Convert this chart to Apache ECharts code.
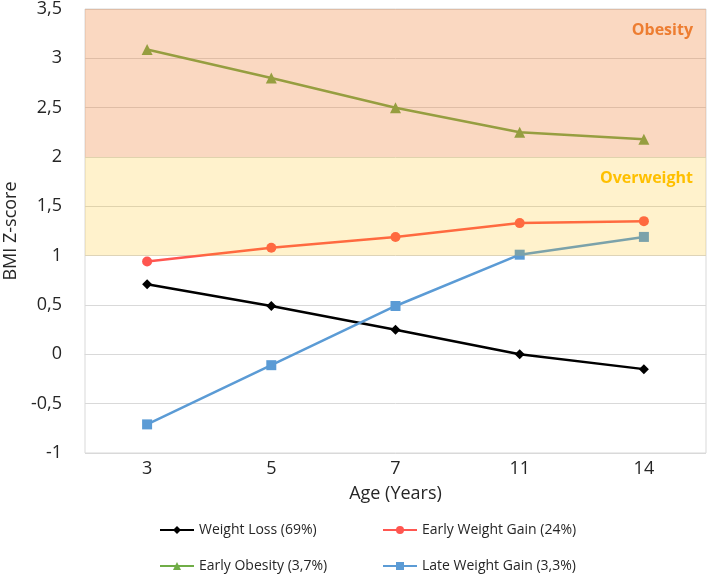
<!DOCTYPE html>
<html><head><meta charset="utf-8">
<script src="https://cdn.jsdelivr.net/npm/echarts@6/dist/echarts.min.js"></script>
<style>html,body{margin:0;padding:0;background:#fff}#c{width:708px;height:574px}</style>
</head><body><div id="c"></div>
<script>
const ages = ['3','5','7','11','14'];
const weightLoss = [0.71, 0.49, 0.25, 0.0, -0.15];
const earlyGain = [0.94, 1.08, 1.19, 1.33, 1.35];
const earlyObesity = [3.09, 2.8, 2.5, 2.25, 2.18];
const lateGain = [-0.71, -0.11, 0.49, 1.01, 1.19];
const names = ['Weight Loss (69%)', 'Early Weight Gain (24%)', 'Early Obesity (3,7%)', 'Late Weight Gain (3,3%)'];
const colors = ['#000000', '#FF5650', '#70AD47', '#5B9BD5'];
const symbols = ['diamond', 'circle', 'triangle', 'rect'];
const sizes = [10, 10, 11, 10];
const values = [weightLoss, earlyGain, earlyObesity, lateGain];

const chart = echarts.init(document.getElementById('c'));
const font = '"Open Sans", "Noto Sans", sans-serif';
const series = names.map((n, i) => ({
  name: n, type: 'line', data: values[i], symbol: symbols[i], symbolSize: sizes[i],
  itemStyle: {color: colors[i]}, lineStyle: {color: colors[i], width: 2.5}, z: 3
}));
series.push({
  name: 'bands', type: 'line', data: ages.map(() => null), z: 20, silent: true,
  showSymbol: false,
  markArea: {
    silent: true, z: 20,
    label: {show: true, position: 'insideTopRight', fontWeight: 'bold', fontSize: 16, fontFamily: font, distance: 13},
    data: [
      [{name: 'Obesity', yAxis: 2, itemStyle: {color: 'rgba(237,125,49,0.3)'},
        label: {color: '#ED7D31'}},
       {yAxis: 3.5}],
      [{name: 'Overweight', yAxis: 1, itemStyle: {color: 'rgba(255,192,0,0.2)'},
        label: {color: '#FFC000'}},
       {yAxis: 2}]
    ]
  }
});
const legendPos = [[154, 518], [377, 518], [154, 554], [377, 554]];
chart.setOption({
  animation: false,
  textStyle: {fontFamily: font},
  grid: {left: 85, right: 2, top: 9, bottom: 121, show: true, borderColor: '#D9D9D9', borderWidth: 1, outerBoundsMode: 'none'},
  legend: names.map((n, i) => ({
    data: [n], left: legendPos[i][0], top: legendPos[i][1], itemWidth: 34, itemHeight: 10, itemGap: 2,
    textStyle: {fontSize: 14, color: '#262626', fontFamily: font}
  })),
  xAxis: {
    type: 'category', data: ages, boundaryGap: true,
    name: 'Age (Years)', nameLocation: 'middle', nameGap: 32,
    nameTextStyle: {fontSize: 18, color: '#262626'},
    axisLine: {lineStyle: {color: '#D9D9D9'}}, axisTick: {show: false},
    axisLabel: {fontSize: 18, color: '#262626', margin: 7}
  },
  yAxis: {
    type: 'value', min: -1, max: 3.5, interval: 0.5,
    name: 'BMI Z-score', nameLocation: 'middle', nameGap: 65,
    nameTextStyle: {fontSize: 18, color: '#262626'},
    axisLine: {show: false}, axisTick: {show: false},
    splitLine: {lineStyle: {color: '#D9D9D9'}},
    axisLabel: {fontSize: 18, color: '#262626', margin: 23, formatter: v => String(v).replace('.', ',')}
  },
  series: series
});
</script></body></html>
